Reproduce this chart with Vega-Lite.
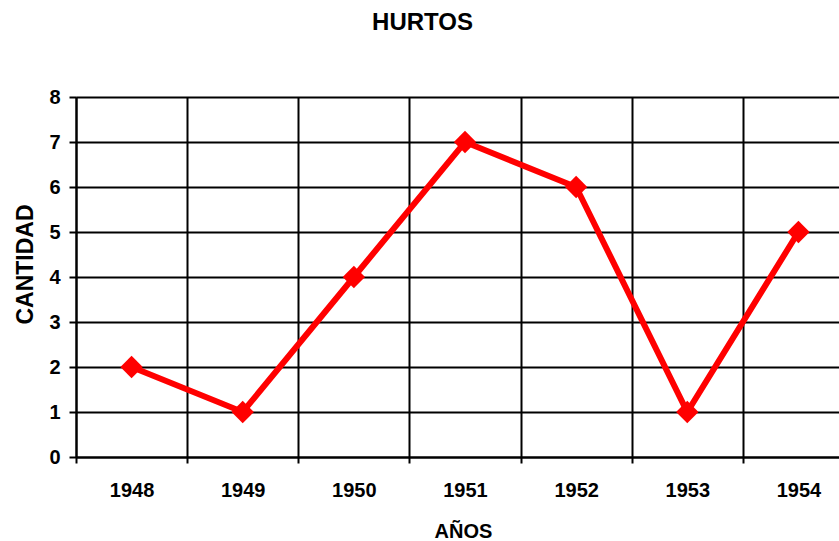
{
  "$schema": "https://vega.github.io/schema/vega-lite/v6.json",
  "autosize": {"type": "none"},
  "width": 763,
  "height": 360,
  "padding": {"left": 76, "top": 97, "right": 0, "bottom": 84},
  "background": "white",
  "title": {
    "text": "HURTOS",
    "font": "Liberation Sans",
    "fontSize": 24,
    "fontWeight": "bold",
    "color": "black",
    "anchor": "middle",
    "frame": "group",
    "baseline": "top",
    "offset": 52,
    "dx": -35
  },
  "data": {
    "values": [
      {"year": "1948", "cantidad": 2},
      {"year": "1949", "cantidad": 1},
      {"year": "1950", "cantidad": 4},
      {"year": "1951", "cantidad": 7},
      {"year": "1952", "cantidad": 6},
      {"year": "1953", "cantidad": 1},
      {"year": "1954", "cantidad": 5}
    ]
  },
  "encoding": {
    "x": {
      "field": "year",
      "type": "ordinal",
      "scale": {"type": "band", "range": [0, 778], "paddingInner": 0, "paddingOuter": 0},
      "axis": {
        "title": "AÑOS",
        "labelAngle": 0,
        "tickBand": "extent",
        "grid": true,
        "gridColor": "black",
        "gridWidth": 2,
        "gridOpacity": 1,
        "domainColor": "black",
        "domainWidth": 2,
        "tickColor": "black",
        "tickWidth": 2,
        "tickSize": 6,
        "labelFont": "Liberation Sans",
        "labelFontSize": 20,
        "labelFontWeight": "bold",
        "labelColor": "black",
        "labelPadding": 17,
        "titleFont": "Liberation Sans",
        "titleFontSize": 20,
        "titleFontWeight": "bold",
        "titleColor": "black",
        "titleBaseline": "alphabetic",
        "titleX": 387,
        "titleY": 80
      }
    },
    "y": {
      "field": "cantidad",
      "type": "quantitative",
      "scale": {"domain": [0, 8], "nice": false},
      "axis": {
        "title": "CANTIDAD",
        "values": [0, 1, 2, 3, 4, 5, 6, 7, 8],
        "grid": true,
        "gridColor": "black",
        "gridWidth": 2,
        "gridOpacity": 1,
        "domainColor": "black",
        "domainWidth": 2,
        "tickColor": "black",
        "tickWidth": 2,
        "tickSize": 7,
        "labelFont": "Liberation Sans",
        "labelFontSize": 20,
        "labelFontWeight": "bold",
        "labelColor": "black",
        "labelPadding": 9,
        "titleFont": "Liberation Sans",
        "titleFontSize": 23,
        "titleFontWeight": "bold",
        "titleColor": "black",
        "titleBaseline": "alphabetic",
        "titleAngle": -90,
        "titleAlign": "center",
        "titleX": -44,
        "titleY": 167
      }
    }
  },
  "layer": [
    {"mark": {"type": "line", "color": "#ff0000", "strokeWidth": 6}},
    {"mark": {"type": "point", "shape": "diamond", "filled": true, "color": "#ff0000", "size": 500, "opacity": 1}}
  ],
  "config": {"view": {"stroke": null}}
}
